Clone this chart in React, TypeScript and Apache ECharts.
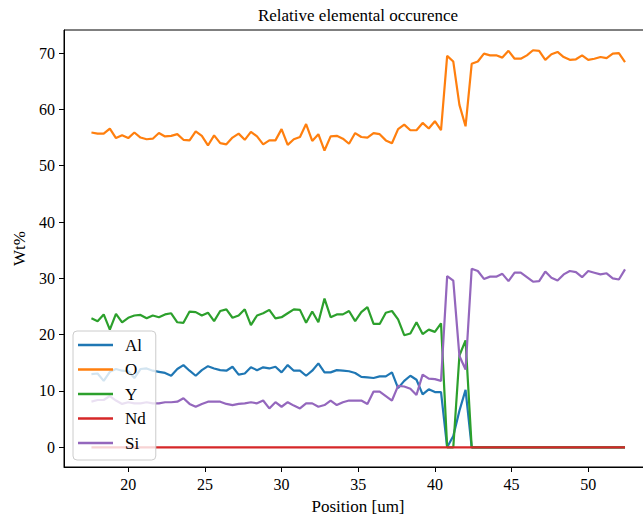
import React, { useEffect, useRef } from "react";
import * as echarts from "echarts";

const positions = [
  17.6, 18.0, 18.4, 18.8, 19.2, 19.6, 20.0, 20.4, 20.8, 21.2,
  21.6, 22.0, 22.4, 22.8, 23.2, 23.6, 24.0, 24.4, 24.8, 25.2,
  25.6, 26.0, 26.4, 26.8, 27.2, 27.6, 28.0, 28.4, 28.8, 29.2,
  29.6, 30.0, 30.4, 30.8, 31.2, 31.6, 32.0, 32.4, 32.8, 33.2,
  33.6, 34.0, 34.4, 34.8, 35.2, 35.6, 36.0, 36.4, 36.8, 37.2,
  37.6, 38.0, 38.4, 38.8, 39.2, 39.6, 40.0, 40.4, 40.8, 41.2,
  41.6, 42.0, 42.4, 42.8, 43.2, 43.6, 44.0, 44.4, 44.8, 45.2,
  45.6, 46.0, 46.4, 46.8, 47.2, 47.6, 48.0, 48.4, 48.8, 49.2,
  49.6, 50.0, 50.4, 50.8, 51.2, 51.6, 52.0, 52.4,
];

const al = [
  13.0, 13.1, 11.8, 13.4, 13.9, 13.6, 13.5, 12.3, 13.9, 14.0,
  13.6, 13.4, 13.2, 12.7, 13.9, 14.6, 13.6, 12.7, 13.7, 14.4,
  14.0, 13.7, 13.6, 14.3, 12.9, 13.1, 14.2, 13.7, 14.2, 14.0,
  14.3, 13.3, 14.6, 13.6, 13.6, 12.7, 13.6, 14.9, 13.3, 13.3,
  13.7, 13.6, 13.5, 13.2, 12.5, 12.4, 12.3, 12.6, 12.6, 13.3,
  10.5, 11.8, 12.7, 12.0, 9.4, 10.3, 9.8, 9.8, 0, 2.0,
  6.5, 10.2, 0, 0, 0, 0, 0, 0, 0, 0,
  0, 0, 0, 0, 0, 0, 0, 0, 0, 0,
  0, 0, 0, 0, 0, 0, 0, 0,
];

const o = [
  55.9, 55.7, 55.7, 56.6, 54.9, 55.4, 54.9, 55.9, 55.0, 54.7,
  54.8, 55.8, 55.2, 55.3, 55.6, 54.6, 54.5, 56.1, 55.3, 53.6,
  55.4, 54.0, 53.8, 55.0, 55.7, 54.6, 56.0, 55.2, 53.8, 54.5,
  54.5, 56.5, 53.7, 54.7, 55.1, 57.4, 54.4, 55.6, 52.7, 55.2,
  55.3, 54.8, 53.9, 55.8, 55.1, 55.0, 55.8, 55.6, 54.5, 54.0,
  56.5, 57.3, 56.3, 56.3, 57.6, 56.6, 57.9, 56.3, 69.5, 68.5,
  60.8, 57.0, 68.1, 68.5, 69.9, 69.6, 69.6, 69.2, 70.4, 69.0,
  69.0, 69.6, 70.5, 70.4, 68.8, 69.8, 70.2, 69.3, 68.8, 68.9,
  69.6, 68.8, 69.0, 69.3, 69.1, 69.9, 70.0, 68.4,
];

const yt = [
  22.9, 22.4, 23.6, 20.9, 23.7, 22.2, 23.0, 23.4, 23.5, 22.9,
  23.4, 23.1, 23.6, 23.8, 22.2, 22.1, 24.1, 24.0, 23.4, 23.9,
  22.4, 24.2, 24.5, 23.0, 23.4, 24.5, 21.7, 23.4, 23.8, 24.4,
  22.9, 23.1, 23.8, 24.5, 24.4, 22.1, 24.1, 22.2, 26.4, 23.1,
  23.6, 23.6, 24.2, 22.4, 24.0, 24.9, 21.9, 21.9, 23.9, 24.2,
  22.7, 19.9, 20.2, 22.2, 20.1, 20.9, 20.5, 22.0, 0, 0,
  16.3, 19.0, 0, 0, 0, 0, 0, 0, 0, 0,
  0, 0, 0, 0, 0, 0, 0, 0, 0, 0,
  0, 0, 0, 0, 0, 0, 0, 0,
];

const nd = [
  0, 0, 0, 0, 0, 0, 0, 0, 0, 0,
  0, 0, 0, 0, 0, 0, 0, 0, 0, 0,
  0, 0, 0, 0, 0, 0, 0, 0, 0, 0,
  0, 0, 0, 0, 0, 0, 0, 0, 0, 0,
  0, 0, 0, 0, 0, 0, 0, 0, 0, 0,
  0, 0, 0, 0, 0, 0, 0, 0, 0, 0,
  0, 0, 0, 0, 0, 0, 0, 0, 0, 0,
  0, 0, 0, 0, 0, 0, 0, 0, 0, 0,
  0, 0, 0, 0, 0, 0, 0, 0,
];

const si = [
  8.1, 8.4, 8.4, 9.1, 8.3, 7.7, 8.0, 7.8, 7.8, 8.0,
  7.8, 7.8, 8.0, 8.0, 8.1, 8.7, 7.7, 7.2, 7.7, 8.1,
  8.1, 8.1, 7.7, 7.5, 7.7, 7.8, 8.0, 7.8, 8.3, 6.9,
  8.0, 7.2, 8.0, 7.4, 6.9, 7.8, 7.8, 7.2, 7.5, 8.3,
  7.5, 8.0, 8.3, 8.3, 8.3, 7.7, 9.9, 9.9, 9.1, 8.3,
  10.9, 10.8, 10.4, 9.3, 12.9, 12.2, 12.1, 11.8, 30.4, 29.6,
  16.2, 13.8, 31.7, 31.3, 29.9, 30.3, 30.3, 30.8, 29.5, 31.0,
  31.0, 30.2, 29.4, 29.5, 31.2, 30.1, 29.6, 30.7, 31.3, 31.1,
  30.2, 31.3, 31.0, 30.7, 30.9, 30.0, 29.8, 31.6,
];

const xTicks = [20, 25, 30, 35, 40, 45, 50];
const yTicks = [0, 10, 20, 30, 40, 50, 60, 70];

const seriesDefs = [
  { name: "Al", values: al, color: "#1f77b4" },
  { name: "O", values: o, color: "#ff7f0e" },
  { name: "Y", values: yt, color: "#2ca02c" },
  { name: "Nd", values: nd, color: "#d62728" },
  { name: "Si", values: si, color: "#9467bd" },
];

const FONT = "'Liberation Serif', 'Times New Roman', serif";

export default function App() {
  const ref = useRef<HTMLDivElement>(null);
  useEffect(() => {
    if (!ref.current) return;
    const chart = echarts.init(ref.current, undefined, { renderer: "svg" });
    chart.setOption({
      animation: false,
      backgroundColor: "#ffffff",
      textStyle: { fontFamily: FONT },
      graphic: [
        {
          type: "text",
          x: 358,
          y: 15,
          style: {
            text: "Relative elemental occurence",
            fill: "#000",
            font: `17px ${FONT}`,
            textAlign: "center",
            textVerticalAlign: "middle",
          },
        },
      ],
      grid: { left: 64, top: 30, right: 8, bottom: 52, show: true, borderColor: "#000", borderWidth: 1, backgroundColor: "transparent" },
      legend: {
        orient: "vertical",
        left: 73,
        top: 331,
        icon: "rect",
        itemWidth: 35,
        itemHeight: 2.5,
        itemGap: 6.5,
        padding: [5, 10, 8, 5],
        backgroundColor: "rgba(255,255,255,0.8)",
        borderColor: "#cccccc",
        borderWidth: 1,
        borderRadius: 4,
        textStyle: { fontFamily: FONT, fontSize: 17, color: "#000", lineHeight: 18, padding: [0, 0, 0, 7] },
        data: seriesDefs.map((s) => s.name),
      },
      xAxis: {
        type: "value",
        min: 15.81,
        max: 54.16,
        name: "Position [um]",
        nameLocation: "middle",
        nameGap: 31,
        nameTextStyle: { fontFamily: FONT, fontSize: 17, color: "#000" },
        axisLine: { onZero: false, lineStyle: { color: "#000", width: 1 } },
        axisTick: { customValues: xTicks, length: 5, lineStyle: { color: "#000" } },
        axisLabel: { customValues: xTicks, color: "#000", fontFamily: FONT, fontSize: 16, margin: 9 },
        splitLine: { show: false },
      },
      yAxis: {
        type: "value",
        min: -3.5,
        max: 74.1,
        name: "Wt%",
        nameLocation: "middle",
        nameRotate: 90,
        nameGap: 34,
        nameTextStyle: { fontFamily: FONT, fontSize: 17, color: "#000" },
        axisLine: { onZero: false, lineStyle: { color: "#000", width: 1 } },
        axisTick: { customValues: yTicks, length: 5, lineStyle: { color: "#000" } },
        axisLabel: { customValues: yTicks, color: "#000", fontFamily: FONT, fontSize: 16, margin: 9 },
        splitLine: { show: false },
      },
      series: seriesDefs.map((s) => ({
        name: s.name,
        type: "line",
        showSymbol: false,
        symbol: "none",
        color: s.color,
        lineStyle: { color: s.color, width: 2.2 },
        data: positions.map((p, i) => [p, s.values[i]]),
      })),
    });
    return () => chart.dispose();
  }, []);
  return (
    <div style={{ position: "fixed", left: 0, top: 0, width: 643, height: 520, overflow: "hidden" }}>
      <div ref={ref} style={{ width: 660, height: 520 }} />
    </div>
  );
}
